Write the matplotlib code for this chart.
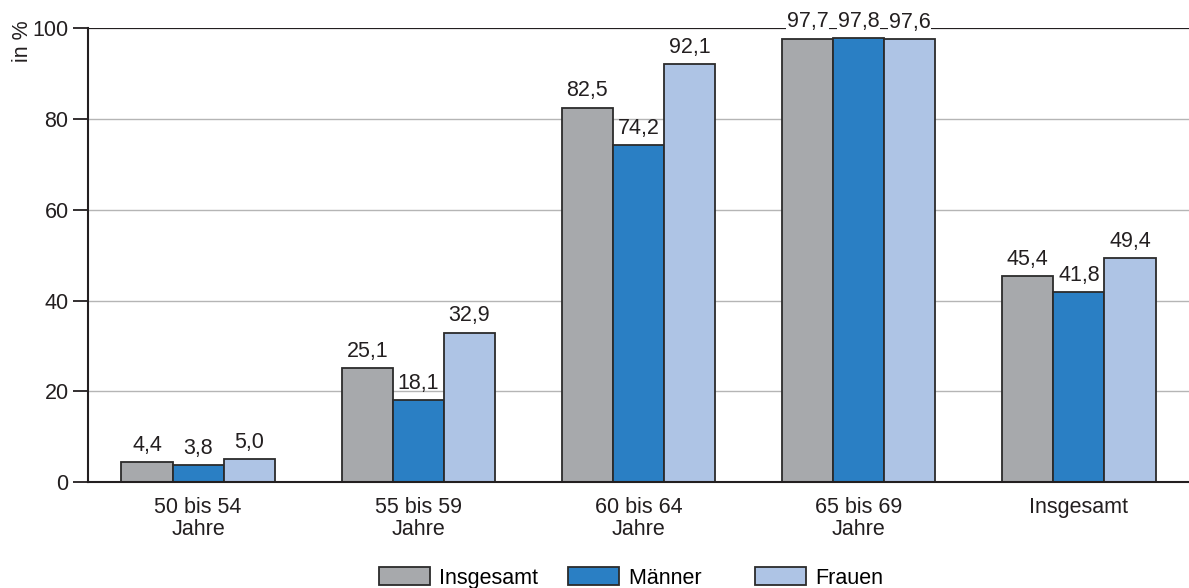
import numpy as np
import matplotlib.pyplot as plt

plt.rcParams['font.family'] = ['Liberation Sans', 'DejaVu Sans']

gruppen = ['50 bis 54\nJahre', '55 bis 59\nJahre', '60 bis 64\nJahre', '65 bis 69\nJahre', 'Insgesamt']
insgesamt = [4.4, 25.1, 82.5, 97.7, 45.4]
maenner = [3.8, 18.1, 74.2, 97.8, 41.8]
frauen = [5.0, 32.9, 92.1, 97.6, 49.4]
serien = ['Insgesamt', 'Männer', 'Frauen']
farben = ['#a7a9ac', '#2a7fc4', '#aec4e5']

fs = 15.5
fig = plt.figure(figsize=(11.89, 5.88), dpi=100)
ax = fig.add_axes([0.074, 0.180, 0.926, 0.772])

x = np.arange(len(gruppen))
breite = 0.232
for i, (werte, name, farbe) in enumerate(zip([insgesamt, maenner, frauen], serien, farben)):
    pos = x + (i - 1) * breite
    ax.bar(pos, werte, breite, color=farbe, edgecolor='#2b2b2b', linewidth=1.3,
           label=name, zorder=3)
    for px, w in zip(pos, werte):
        # labels near the top line get a white box so the line breaks around them
        box = dict(facecolor='white', edgecolor='none', pad=0.3) if w > 95 else None
        ax.text(px, w + 1.4, f'{w:.1f}'.replace('.', ','), ha='center', va='bottom',
                fontsize=fs, color='#231f20', zorder=5, bbox=box)

ax.set_xlim(-0.5, 4.5)
ax.set_ylim(0, 100)
ax.set_yticks([0, 20, 40, 60, 80, 100])
ax.set_xticks(x)
ax.set_xticklabels(gruppen, fontsize=fs, color='#231f20', linespacing=1.05)
ax.tick_params(axis='x', length=0, pad=10.5)
ax.tick_params(axis='y', length=11, width=1.3, color='#231f20', labelsize=fs,
               labelcolor='#231f20', pad=3)
ax.grid(axis='y', color='#b5b5b5', linewidth=1, zorder=0)
ax.axhline(100, color='#231f20', linewidth=1.5, zorder=4)

for s in ['top', 'right']:
    ax.spines[s].set_visible(False)
for s in ['left', 'bottom']:
    ax.spines[s].set_color('#231f20')
    ax.spines[s].set_linewidth(1.5)
    ax.spines[s].set_zorder(4)

fig.text(0.010, 0.965, 'in %', rotation=90, ha='left', va='top', fontsize=fs, color='#231f20')

handles, labels = ax.get_legend_handles_labels()
labels = ['Insgesamt', 'Männer    ', 'Frauen']
fig.legend(handles, labels, loc='lower center', bbox_to_anchor=(0.531, -0.021), ncol=3,
           frameon=False, fontsize=fs, handlelength=2.35, handleheight=0.95,
           handletextpad=0.45, columnspacing=1.4, borderpad=0.05)

fig.savefig('out.png', dpi=100)
